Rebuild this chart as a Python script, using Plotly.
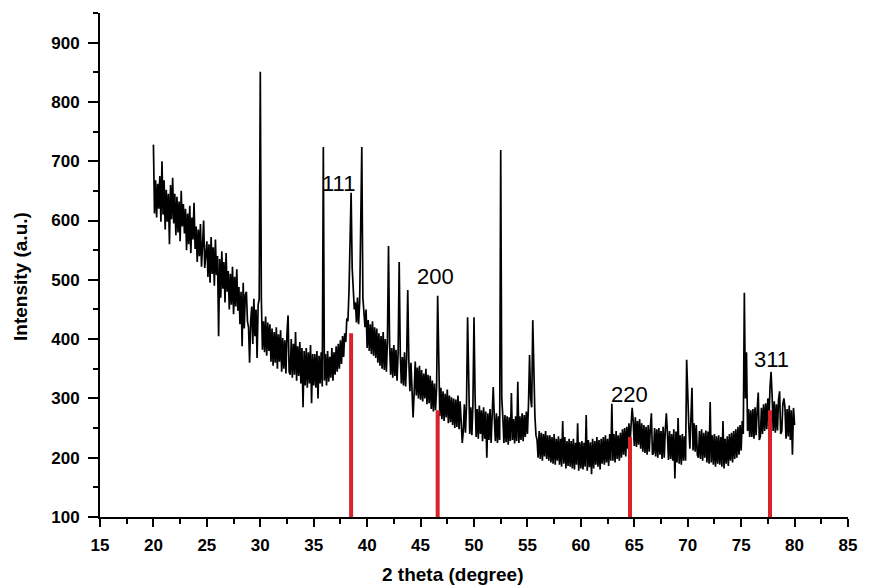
import plotly.graph_objects as go

# 2-theta grid start/step (0.1 degree), 20.0 .. 80.0
theta_start = 20.0
theta_step = 0.1

intensity = [
    728, 612, 668, 605, 662, 620, 675, 598, 700, 610,   # 20
    668, 585, 652, 598, 645, 560, 660, 602, 672, 595,   # 21
    645, 575, 640, 580, 632, 565, 650, 590, 628, 578,   # 22
    620, 550, 612, 560, 625, 545, 605, 568, 630, 552,   # 23
    590, 530, 585, 540, 594, 522, 560, 600, 520, 545,   # 24
    565, 505, 560, 495, 572, 510, 555, 490, 568, 508,   # 25
    540, 405, 535, 470, 548, 485, 530, 462, 545, 480,   # 26
    515, 450, 510, 458, 522, 442, 505, 455, 518, 448,   # 27
    488, 425, 480, 388, 495, 418, 475, 480, 430, 420,   # 28
    360, 430, 455, 392, 468, 405, 450, 368, 458, 468,   # 29
    851, 468, 382, 430, 378, 438, 372, 428, 380, 425,   # 30
    362, 418, 355, 412, 360, 420, 350, 408, 362, 415,   # 31
    345, 402, 350, 398, 342, 410, 440, 345, 340, 400,   # 32
    335, 392, 340, 412, 330, 388, 338, 395, 325, 385,   # 33
    285, 380, 322, 385, 318, 378, 325, 390, 292, 375,   # 34
    322, 375, 318, 380, 300, 372, 325, 378, 320, 724,   # 35
    330, 375, 322, 380, 328, 370, 335, 385, 330, 378,   # 36
    340, 388, 345, 392, 350, 398, 358, 405, 370, 410,   # 37
    395, 435, 430, 480, 545, 647, 520, 490, 450, 462,   # 38
    428, 470, 425, 462, 560, 724, 470, 438, 420, 450,   # 39
    385, 432, 380, 425, 375, 430, 372, 420, 368, 418,   # 40
    360, 410, 355, 405, 350, 412, 348, 400, 345, 398,   # 41
    557, 392, 340, 385, 335, 390, 338, 382, 330, 378,   # 42
    530, 375, 325, 370, 322, 378, 320, 368, 483, 365,   # 43
    312, 360, 308, 268, 310, 362, 305, 352, 300, 355,   # 44
    298, 348, 295, 342, 300, 350, 290, 340, 292, 338,   # 45
    282, 330, 278, 325, 280, 318, 473, 320, 270, 318,   # 46
    265, 312, 262, 308, 268, 315, 258, 305, 260, 302,   # 47
    255, 300, 250, 298, 252, 305, 248, 295, 250, 225,   # 48
    245, 290, 242, 288, 437, 300, 240, 285, 238, 290,   # 49
    437, 305, 235, 282, 232, 288, 240, 280, 228, 285,   # 50
    232, 278, 200, 275, 230, 282, 225, 272, 319, 270,   # 51
    228, 275, 225, 270, 230, 719, 300, 268, 225, 272,   # 52
    226, 270, 222, 268, 228, 309, 230, 265, 224, 270,   # 53
    228, 328, 225, 270, 230, 275, 228, 272, 235, 278,   # 54
    240, 290, 373, 300, 285, 432, 343, 270, 238, 230,   # 55
    200, 245, 198, 242, 195, 240, 202, 245, 198, 238,   # 56
    195, 238, 192, 235, 190, 240, 188, 232, 195, 236,   # 57
    188, 232, 185, 262, 190, 235, 182, 228, 186, 232,   # 58
    185, 228, 182, 232, 180, 225, 188, 258, 178, 226,   # 59
    182, 228, 180, 225, 185, 272, 178, 230, 184, 226,   # 60
    172, 232, 182, 228, 188, 235, 185, 230, 180, 232,   # 61
    190, 235, 188, 238, 192, 232, 186, 240, 195, 291,   # 62
    195, 240, 192, 245, 198, 238, 195, 242, 200, 248,   # 63
    205, 250, 202, 252, 215, 258, 225, 265, 284, 262,   # 64
    220, 268, 218, 262, 222, 265, 215, 258, 210, 255,   # 65
    208, 252, 205, 255, 210, 250, 275, 205, 208, 250,   # 66
    202, 248, 200, 250, 205, 245, 198, 252, 200, 246,   # 67
    275, 242, 196, 245, 198, 240, 195, 248, 165, 244,   # 68
    192, 267, 190, 238, 188, 240, 195, 236, 195, 365,   # 69
    290, 255, 215, 262, 318, 212, 258, 210, 255, 205,   # 70
    200, 245, 198, 248, 195, 242, 200, 246, 192, 244,   # 71
    190, 294, 192, 238, 188, 240, 185, 236, 190, 238,   # 72
    188, 235, 185, 262, 182, 232, 190, 236, 186, 240,   # 73
    195, 242, 192, 245, 198, 248, 200, 252, 205, 255,   # 74
    212, 262, 240, 478, 300, 378, 245, 282, 235, 280,   # 75
    235, 282, 232, 285, 238, 280, 310, 230, 236, 284,   # 76
    240, 290, 245, 292, 248, 300, 260, 318, 345, 305,   # 77
    245, 295, 242, 290, 246, 298, 312, 240, 244, 290,   # 78
    300, 285, 232, 282, 236, 288, 230, 280, 205, 284,   # 79
    255,                                                # 80
]
two_theta = [round(theta_start + i * theta_step, 2) for i in range(len(intensity))]

# Reference (standard) reflections shown as red sticks
ref_positions = [38.5, 46.6, 64.6, 77.7]
ref_heights = [410, 280, 235, 280]
ref_base = 100

# hkl labels
hkl_labels = ["111", "200", "220", "311"]
hkl_x = [37.35, 46.42, 64.54, 77.85]
hkl_y = [662, 505, 306, 365]

x_ticks = [15, 20, 25, 30, 35, 40, 45, 50, 55, 60, 65, 70, 75, 80, 85]
y_ticks = [100, 200, 300, 400, 500, 600, 700, 800, 900]

FONT = "Arial, Liberation Sans, sans-serif"

fig = go.Figure()

fig.add_trace(go.Scatter(
    x=two_theta, y=intensity, mode="lines",
    line=dict(color="black", width=1.7),
    showlegend=False, hoverinfo="skip",
))

stick_x, stick_y = [], []
for p, h in zip(ref_positions, ref_heights):
    stick_x += [p, p, None]
    stick_y += [ref_base, h, None]
fig.add_trace(go.Scatter(
    x=stick_x, y=stick_y, mode="lines",
    line=dict(color="#d9232a", width=4),
    showlegend=False, hoverinfo="skip",
))

for lab, lx, ly in zip(hkl_labels, hkl_x, hkl_y):
    fig.add_annotation(x=lx, y=ly, text=lab, showarrow=False,
                       font=dict(family=FONT, size=22, color="black"),
                       xanchor="center", yanchor="middle")

fig.update_xaxes(
    range=[15, 85], tickvals=x_ticks, ticktext=[str(v) for v in x_ticks],
    showline=True, linecolor="black", linewidth=2, mirror=False,
    ticks="outside", ticklen=8, tickwidth=2, tickcolor="black",
    ticklabelstandoff=4,
    minor=dict(ticks="outside", ticklen=5, tickwidth=2, dtick=2.5, tick0=15, tickcolor="black"),
    showgrid=False, zeroline=False,
    tickfont=dict(family=FONT, size=17, color="black", weight="bold"),
)
fig.update_yaxes(
    range=[100, 950], tickvals=y_ticks, ticktext=[str(v) for v in y_ticks],
    showline=True, linecolor="black", linewidth=2, mirror=False,
    ticks="outside", ticklen=10, tickwidth=2, tickcolor="black",
    ticklabelstandoff=5,
    minor=dict(ticks="outside", ticklen=5, tickwidth=2, dtick=50, tick0=100, tickcolor="black"),
    showgrid=False, zeroline=False,
    tickfont=dict(family=FONT, size=17, color="black", weight="bold"),
)

fig.add_annotation(xref="paper", yref="paper", x=(457 - 100) / 757, y=-(574 - 517) / 504,
                   text="<b>2 theta (degree)</b>", showarrow=False,
                   font=dict(family=FONT, size=19, color="black"),
                   xanchor="center", yanchor="middle")
fig.add_annotation(xref="paper", yref="paper", x=-(100 - 20) / 757, y=(517 - 276) / 504,
                   text="<b>Intensity (a.u.)</b>", showarrow=False, textangle=-90,
                   font=dict(family=FONT, size=19, color="black"),
                   xanchor="center", yanchor="middle")

fig.update_layout(
    width=869, height=586,
    margin=dict(l=100, r=12, t=13, b=69),
    paper_bgcolor="white", plot_bgcolor="white",
)

fig.write_html("out.html",
               config={"displayModeBar": False},
               post_script="document.body.style.margin='0';document.body.style.padding='0';")
